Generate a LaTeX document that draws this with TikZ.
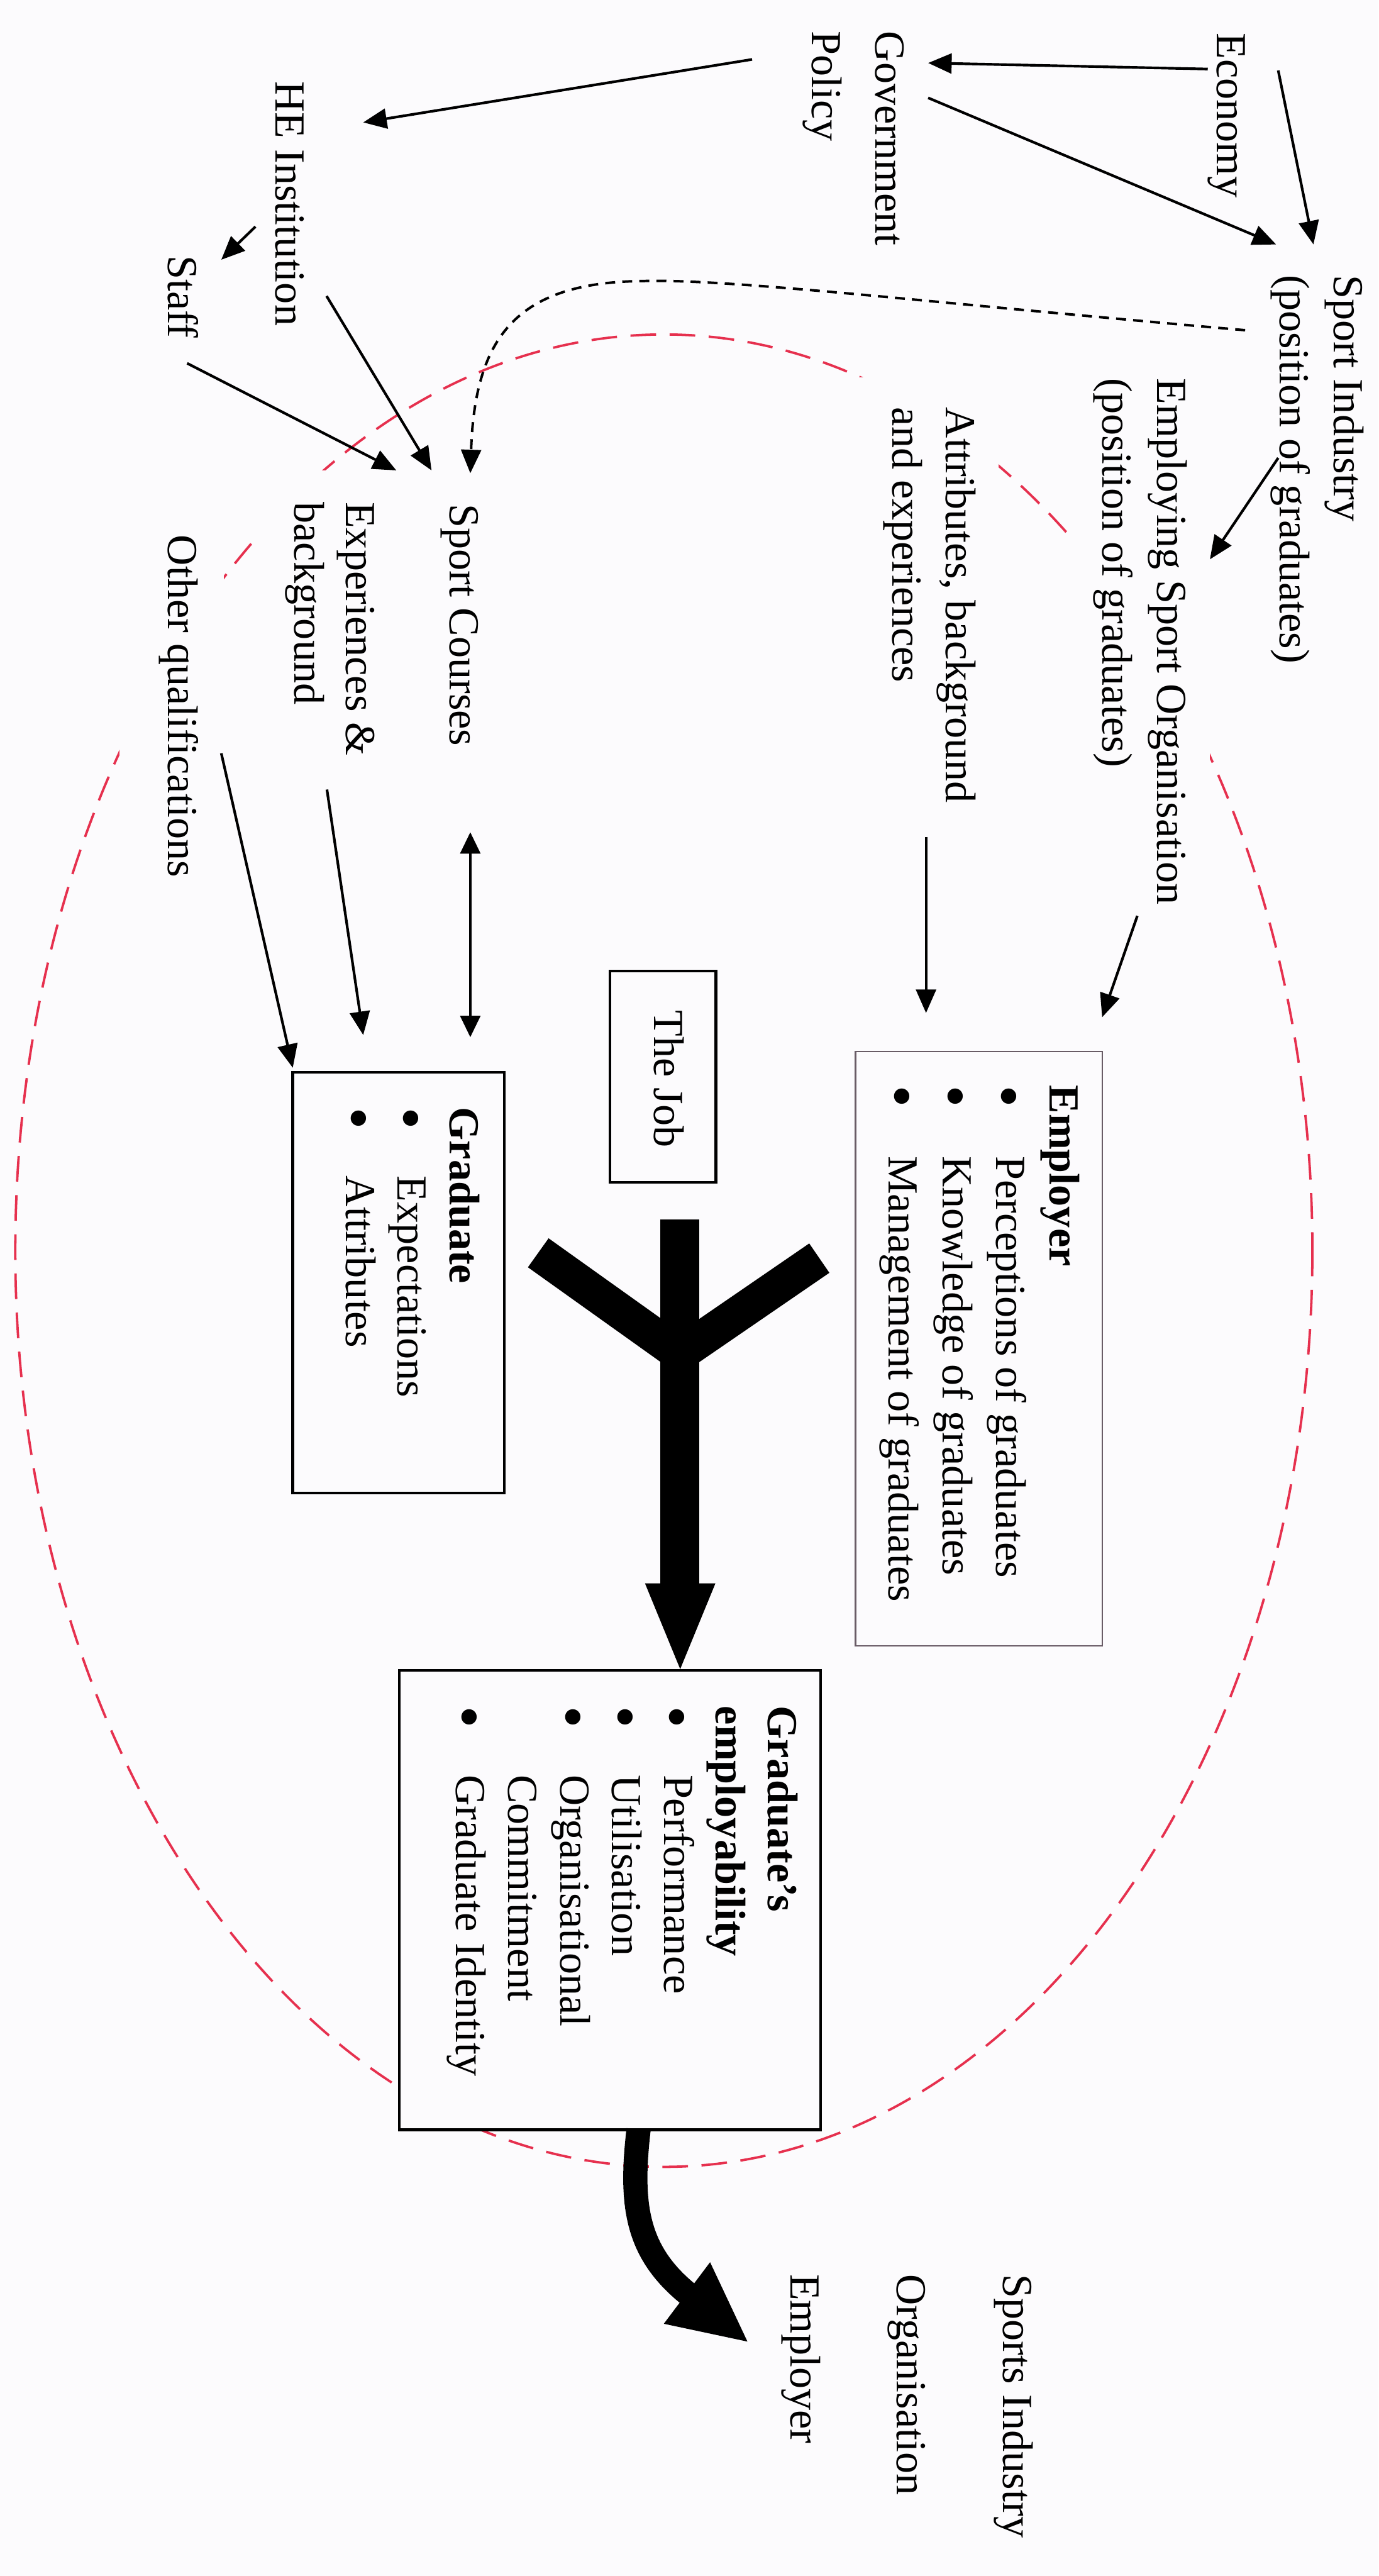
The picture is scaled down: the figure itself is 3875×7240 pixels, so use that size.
\documentclass[tikz,border=0pt]{standalone}
\usepackage{fontspec}
\usepackage{graphicx}
\setmainfont{Liberation Serif}
\usetikzlibrary{arrows.meta}
\definecolor{ovalred}{RGB}{230,48,78}
\definecolor{paper}{RGB}{252,251,253}
\definecolor{thinframe}{RGB}{105,92,102}
% large list bullet
\newcommand{\bigbul}{\raisebox{-0.2em}{\scalebox{1.5}{\textbullet}}}

\begin{document}
\begin{tikzpicture}[x=0.01cm, y=-0.01cm,
  lbl/.style={rotate=-90, anchor=north west, inner sep=0pt, outer sep=0pt,
              align=left, font=\fontsize{34.3}{43}\selectfont},
  arr/.style={line width=2.1pt, -{Triangle[length=0.66cm,width=0.56cm]}},
  dblarr/.style={line width=2.1pt,
                 {Triangle[length=0.6cm,width=0.56cm]}-{Triangle[length=0.6cm,width=0.56cm]}},
  dotarr/.style={line width=2pt, dash pattern=on 0.28cm off 0.2cm,
                 -{Triangle[length=0.66cm,width=0.56cm]}},
  oval/.style={draw=ovalred, line width=1.9pt, dash pattern=on 0.72cm off 0.38cm},
  box/.style={draw, fill=paper, line width=2.2pt, anchor=north west,
              inner sep=0pt, outer sep=0pt},
  mask/.style={fill=paper},
  heavy/.style={fill=black}
]
\useasboundingbox (0,0) rectangle (3875,7240);
\fill[paper] (0,0) rectangle (3875,7240);

% the dashed oval enclosing the employment relationship
\draw[oval] (1866,3515) ellipse [x radius=1823, y radius=2575];

% white backing of the label boxes that interrupt the oval
\fill[mask] (2400,1060) rectangle (2807,2300);
\fill[mask] (3000,1000) rectangle (3400,2600);
\fill[mask] (715,1322) rectangle (1411,2200);
\fill[mask] (335,1420) rectangle (630,2600);

% boxes
\node[box, minimum width=5.94cm, minimum height=11.81cm] (gradbox) at (823,3014) {};
\node[box, minimum width=2.98cm, minimum height=5.94cm] (jobbox) at (1714,2729) {};
\node[box, draw=thinframe, line width=1.2pt, minimum width=6.93cm, minimum height=16.70cm] (emplbox) at (2405,2955) {};
\node[box, minimum width=11.84cm, minimum height=12.90cm] (empbox) at (1122,4695) {};

% labels
\node[lbl] (econ) at (3527,93) {\strut Economy};
\node[lbl, font=\fontsize{34.3}{51}\selectfont] (gov) at (2587,88) {\strut Government\\Policy};
\node[lbl] (sind) at (3855,773) {\strut Sport Industry\\(position of graduates)};
\node[lbl, font=\fontsize{34.3}{44}\selectfont] (emporg) at (3362,1064)
  {\strut Employing Sport Organisation\\(position of graduates)};
\node[lbl] (attr) at (2766,1145) {\strut Attributes, background\\and experiences};
\node[lbl] (hei) at (881,229) {\strut HE Institution};
\node[lbl] (staff) at (578,718) {\strut Staff};
\node[lbl] (courses) at (1370,1417) {\strut Sport Courses};
\node[lbl, font=\fontsize{34.3}{41.3}\selectfont] (exper) at (1075,1411) {\strut Experiences \&\\background};
\node[lbl] (otherq) at (578,1504) {\strut Other qualifications};
\node[lbl] (jobtxt) at (1945,2840) {\strut The Job};

\node[lbl, font=\fontsize{34.3}{41.4}\selectfont] (gradtxt) at (1366,3112)
  {\strut\textbf{Graduate}\\
   \makebox[1.93cm][l]{\bigbul}Expectations\\
   \makebox[1.93cm][l]{\bigbul}Attributes};
\node[lbl, font=\fontsize{34.3}{42.9}\selectfont] (empltxt) at (3057,3050)
  {\strut\textbf{Employer}\\
   \makebox[1.99cm][l]{\bigbul}Perceptions of graduates\\
   \makebox[1.99cm][l]{\bigbul}Knowledge of graduates\\
   \makebox[1.99cm][l]{\bigbul}Management of graduates};
\node[lbl, font=\fontsize{34.3}{41.5}\selectfont] (emptxt) at (2261,4795)
  {\strut\textbf{Graduate’s}\\
   \textbf{employability}\\
   \makebox[1.93cm][l]{\bigbul}Performance\\
   \makebox[1.93cm][l]{\bigbul}Utilisation\\
   \makebox[1.93cm][l]{\bigbul}Organisational\\
   \makebox[1.93cm][l]{}Commitment\\
   \makebox[1.93cm][l]{\bigbul}Graduate Identity};
\node[lbl, font=\fontsize{34.3}{85}\selectfont] (sportorg) at (3029,6392)
  {\strut Sports Industry\\Organisation\\Employer};

% connector end points
\coordinate (econ-a) at (3395,194);   \coordinate (gov-a) at (2609,177);
\coordinate (econ-b) at (3593,198);   \coordinate (sind-a) at (3692,687);
\coordinate (gov-b) at (2609,275);    \coordinate (sind-b) at (3587,687);
\coordinate (gov-c) at (2114,167);    \coordinate (hei-a) at (1021,344);
\coordinate (hei-b) at (718,637);     \coordinate (staff-a) at (622,730);
\coordinate (staff-b) at (526,1021);  \coordinate (courses-a) at (1114,1322);
\coordinate (hei-c) at (918,832);     \coordinate (courses-b) at (1213,1322);
\coordinate (sind-c) at (3500,928);   \coordinate (courses-c) at (1322,1330);
\coordinate (sind-d) at (3593,1287);  \coordinate (emporg-a) at (3401,1572);
\coordinate (courses-d) at (1322,2339); \coordinate (grad-a) at (1322,2915);
\coordinate (exper-a) at (919,2219);  \coordinate (grad-b) at (1021,2909);
\coordinate (otherq-a) at (622,2117); \coordinate (grad-c) at (823,3001);
\coordinate (attr-a) at (2603,2352);  \coordinate (empl-a) at (2603,2847);
\coordinate (emporg-b) at (3197,2574); \coordinate (empl-b) at (3098,2859);

% connectors
\draw[arr] (econ-a) -- (gov-a);
\draw[arr] (econ-b) -- (sind-a);
\draw[arr] (gov-b) -- (sind-b);
\draw[arr] (gov-c) -- (hei-a);
\draw[arr] (hei-b) -- (staff-a);
\draw[arr] (staff-b) -- (courses-a);
\draw[arr] (hei-c) -- (courses-b);
\draw[dotarr] (sind-c) .. controls (2600,850) and (2050,782) .. (1800,790)
               .. controls (1450,795) and (1335,950) .. (courses-c);
\draw[arr] (sind-d) -- (emporg-a);
\draw[dblarr] (courses-d) -- (grad-a);
\draw[arr] (exper-a) -- (grad-b);
\draw[arr] (otherq-a) -- (grad-c);
\draw[arr] (attr-a) -- (empl-a);
\draw[arr] (emporg-b) -- (empl-b);

% heavy forked arrow from graduate, job and employer into employability
\draw[line width=1.1cm] (1911,3428) -- (1911,4452);
\draw[line width=1.0cm] (1513,3521) -- (1911,3805) -- (2303,3536);
\fill[heavy] (1813,4450) -- (2011,4450) -- (1912,4691) -- cycle;

% heavy curved arrow towards the sports industry employer
\draw[line width=0.68cm] (1795,5985) .. controls (1770,6200) and (1790,6330) .. (1935,6448);
\fill[heavy] (1996,6358) -- (2101,6581) -- (1866,6531) -- cycle;
\end{tikzpicture}
\end{document}
